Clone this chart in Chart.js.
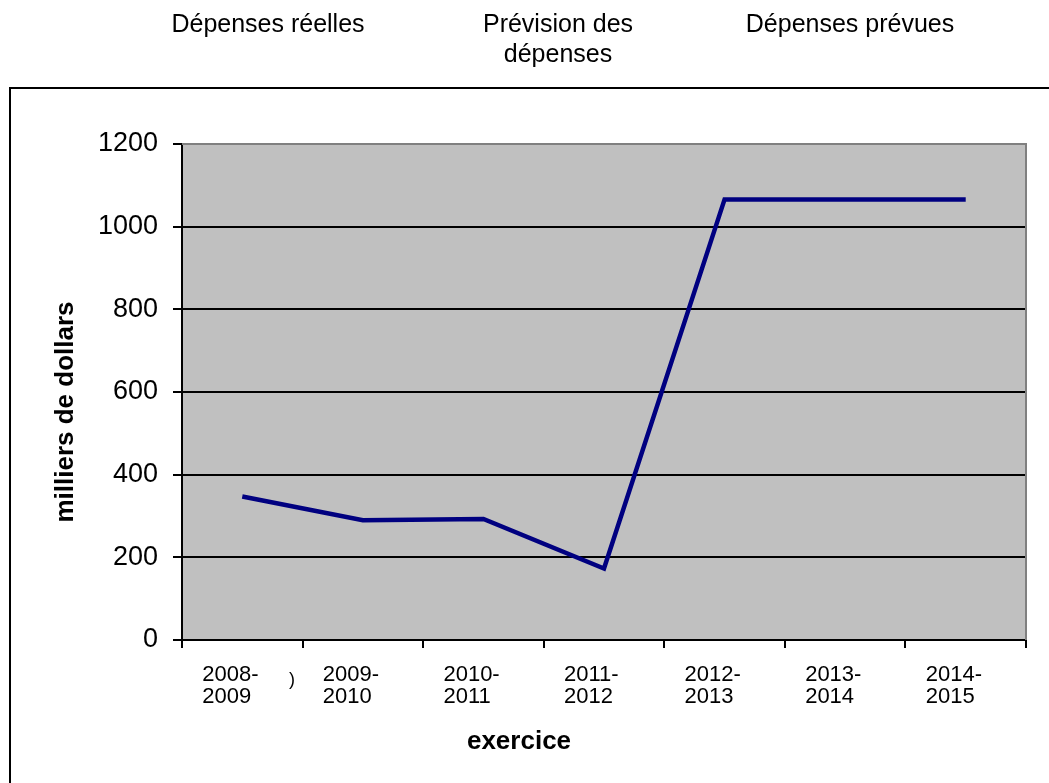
<!DOCTYPE html>
<html lang="fr">
<head>
<meta charset="UTF-8">
<title>Dépenses</title>
<script src="https://cdn.jsdelivr.net/npm/chart.js"></script>
<style>
  html, body { margin: 0; padding: 0; background: #fff; }
  .chart-container { width: 1049px; height: 783px; position: relative; }
</style>
</head>
<body>
<div class="chart-container">
  <canvas id="myChart"></canvas>
</div>
<script>
// données
const exercices = [
  ['2008-', '2009'], ['2009-', '2010'], ['2010-', '2011'], ['2011-', '2012'],
  ['2012-', '2013'], ['2013-', '2014'], ['2014-', '2015']
];
const depenses = [347, 290, 293, 173, 1066, 1066, 1066];
const yTicks = [0, 200, 400, 600, 800, 1000, 1200];
const enTetes = [
  { lignes: ['Dépenses réelles'], x: 268 },
  { lignes: ['Prévision des', 'dépenses'], x: 558 },
  { lignes: ['Dépenses prévues'], x: 850 }
];
const titreX = 'exercice';
const titreY = 'milliers de dollars';

const FONT = '"Liberation Sans", Arial, sans-serif';

// fond gris de la zone de tracé + cadre + en-têtes + titres d'axes
const decor = {
  id: 'decor',
  beforeDraw(chart) {
    const { ctx, chartArea: a } = chart;
    ctx.save();
    ctx.fillStyle = '#c0c0c0';
    ctx.fillRect(a.left, a.top, a.right - a.left, a.bottom - a.top);
    ctx.restore();
  },
  beforeDatasetsDraw(chart) {
    const { ctx, chartArea: a } = chart;
    ctx.save();
    ctx.strokeStyle = '#808080';
    ctx.lineWidth = 2;
    ctx.beginPath();
    ctx.moveTo(a.left, a.top);
    ctx.lineTo(a.right, a.top);
    ctx.lineTo(a.right, a.bottom);
    ctx.stroke();
    ctx.restore();
  },
  afterDraw(chart) {
    const { ctx, width, height } = chart;
    ctx.save();
    // cadre extérieur (coupé à droite et en bas)
    ctx.strokeStyle = '#000';
    ctx.lineWidth = 2;
    ctx.beginPath();
    ctx.moveTo(10, height + 5);
    ctx.lineTo(10, 88);
    ctx.lineTo(width + 5, 88);
    ctx.stroke();
    // en-têtes
    ctx.fillStyle = '#000';
    ctx.font = '25px ' + FONT;
    ctx.textAlign = 'center';
    ctx.textBaseline = 'middle';
    enTetes.forEach(t => {
      t.lignes.forEach((l, i) => ctx.fillText(l, t.x, 25 + i * 30));
    });
    // titres des axes
    ctx.font = 'bold 26px ' + FONT;
    ctx.fillText(titreX, 519, 742);
    ctx.save();
    ctx.translate(66, 412);
    ctx.rotate(-Math.PI / 2);
    ctx.fillText(titreY, 0, 0);
    ctx.restore();
    ctx.font = '18px ' + FONT;
    ctx.fillText(')', 292, 680);
    ctx.restore();
  }
};

const ctx = document.getElementById('myChart').getContext('2d');
new Chart(ctx, {
  type: 'line',
  data: {
    labels: exercices,
    datasets: [{
      label: 'Dépenses',
      data: depenses,
      borderColor: '#000080',
      borderWidth: 4.5,
      pointRadius: 0,
      tension: 0,
      fill: false
    }]
  },
  options: {
    responsive: true,
    maintainAspectRatio: false,
    animation: false,
    layout: { padding: { top: 144, right: 23, left: 0, bottom: 0 } },
    plugins: {
      legend: { display: false },
      tooltip: { enabled: false }
    },
    scales: {
      x: {
        offset: true,
        grid: {
          offset: true,
          drawOnChartArea: false,
          drawTicks: true,
          tickLength: 8,
          tickColor: '#000',
          lineWidth: 2
        },
        border: { display: true, color: '#000', width: 2 },
        ticks: {
          color: '#000',
          font: { family: FONT, size: 22, lineHeight: 1 },
          padding: 16,
          align: 'start',
          labelOffset: -40,
          maxRotation: 0,
          autoSkip: false
        },
        afterFit(scale) { scale.height = 143; }
      },
      y: {
        min: yTicks[0],
        max: yTicks[yTicks.length - 1],
        afterBuildTicks(scale) { scale.ticks = yTicks.map(v => ({ value: v })); },
        grid: {
          color: c => c.tick && c.tick.value === 0 ? 'rgba(0,0,0,0)' : '#000',
          lineWidth: 2,
          tickLength: 9,
          tickColor: '#000'
        },
        border: { display: true, color: '#000', width: 2 },
        ticks: {
          color: '#000',
          font: { family: FONT, size: 27 },
          padding: 15,
          callback: v => String(v)
        },
        afterFit(scale) { scale.width = 182; }
      }
    }
  },
  plugins: [decor]
});
</script>
</body>
</html>
